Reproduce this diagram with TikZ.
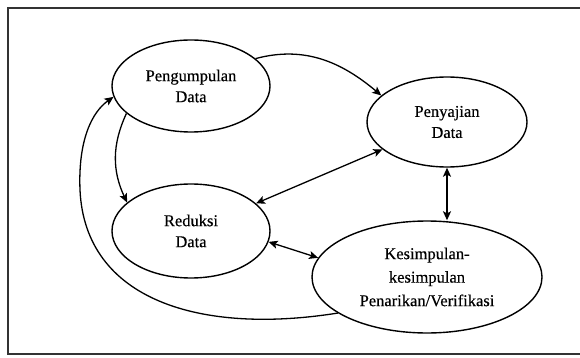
\documentclass[tikz,border=0pt]{standalone}
\usepackage{fontspec}
\setmainfont{Liberation Serif}[FakeBold=0.4]
\usetikzlibrary{shapes.geometric,arrows.meta}
\begin{document}
\begin{tikzpicture}[x=1pt,y=-1pt,
  tip/.tip={Stealth[length=9pt,width=8pt,inset=2pt]},
  ell/.style={ellipse,draw,line width=1.4pt,inner sep=0pt,align=center,
    font=\fontsize{16.5}{21}\selectfont},
  conn/.style={line width=1.3pt,-tip},
  bconn/.style={line width=1.3pt,tip-tip}]
\useasboundingbox (0,0) rectangle (580,358);
\draw[line width=2pt,black!80] (8,8) rectangle (640,354);
\node[ell,minimum width=158pt,minimum height=92pt] (P) at (191,86) {Pengumpulan\\Data};
\node[ell,minimum width=160pt,minimum height=90pt] (S) at (447,122) {Penyajian\\Data};
\node[ell,minimum width=158pt,minimum height=94pt] (R) at (191,231) {Reduksi\\Data};
\node[ell,minimum width=230pt,minimum height=112pt,font=\fontsize{16.5}{23.5}\selectfont] (K) at (427,277) {Kesimpulan-\\kesimpulan\\Penarikan/Verifikasi};
\draw[conn] (P.23) to[out=15,in=140] (S.158);
\draw[conn] (P.203) to[out=245,in=115] (R.156);
\draw[bconn] (R.23) -- (S.203);
\draw[bconn] (S.south) -- (S.south |- K.north);
\draw[bconn] (R.-8) -- (K.170);
\draw[conn] (K.202) .. controls (200,335) and (85,300) .. (80,190)
  .. controls (78,140) and (92,112) .. (P.188);
\end{tikzpicture}
\end{document}
